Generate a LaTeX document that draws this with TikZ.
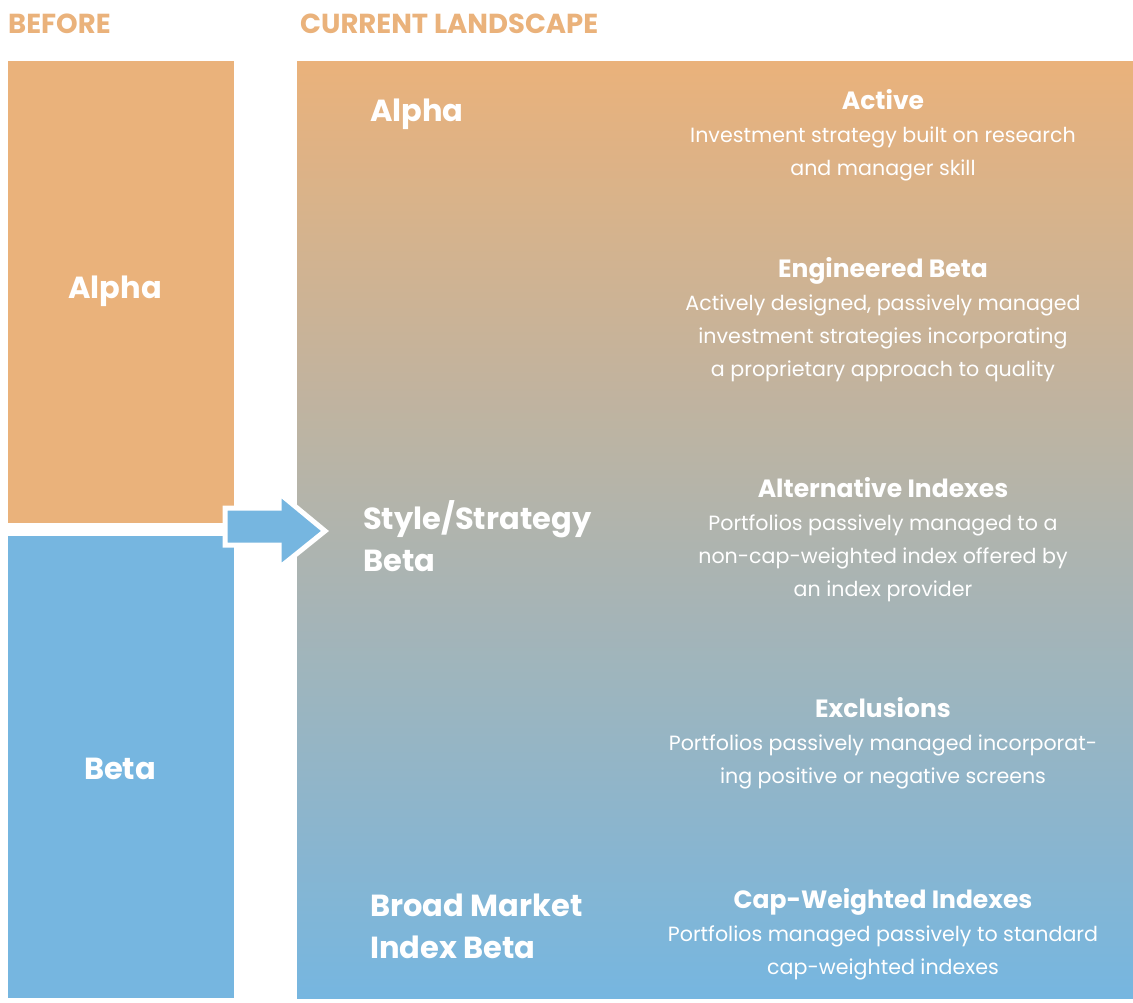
\documentclass[tikz,border=0pt]{standalone}
\usepackage{fontspec}
\setmainfont{Poppins}
\usetikzlibrary{shapes,calc}
\definecolor{orangeC}{RGB}{234,178,123}
\definecolor{blueC}{RGB}{118,182,224}
\tikzset{
  headtext/.style={text=orangeC,anchor=base west,inner sep=0pt,font=\fontsize{27.5}{30}\selectfont\bfseries},
  bigtext/.style={text=white,inner sep=0pt,font=\fontsize{30.5}{42}\selectfont\bfseries,align=left},
  desctext/.style={text=white,inner sep=0pt,font=\fontsize{20.6}{33}\selectfont,align=center},
}
\begin{document}
\begin{tikzpicture}[x=1pt,y=1pt]
  \useasboundingbox (0,0) rectangle (1133,-1002);
  \node[headtext] (before) at (8,-33) {BEFORE};
  \node[headtext] (current) at (300,-33) {CURRENT LANDSCAPE};
  \node[fill=orangeC,inner sep=0pt,minimum width=226pt,minimum height=462pt,anchor=north west] (alphabox) at (8,-61) {};
  \node[fill=blueC,inner sep=0pt,minimum width=226pt,minimum height=462pt,anchor=north west] (betabox) at (8,-536) {};
  \node[top color=orangeC,bottom color=blueC,draw=none,inner sep=0pt,minimum width=836pt,minimum height=937pt,anchor=north west] (landbox) at (297,-61) {};
  \draw[white,line width=5pt,fill=blueC,line join=miter]
    (225,-508) -- (279,-508) -- (279,-493) -- (325,-531) -- (279,-568) -- (279,-545) -- (225,-545) -- cycle;
  \node[bigtext] (alphaL) at (115,-291) {Alpha};
  \node[bigtext] (betaL) at (120,-769) {Beta};
  \node[bigtext,anchor=west] (alphaR) at (370,-114) {Alpha};
  \node[bigtext,anchor=west] (styleR) at (363,-536) {Style/Strategy\\Beta};
  \node[bigtext,anchor=west] (broadR) at (370,-926) {Broad Market\\Index Beta};
  \foreach \name/\y/\txt in {
    active/-135/{{\bfseries\fontsize{25}{33}\selectfont Active}\\Investment strategy built on research\\and manager skill},
    engineered/-320/{{\bfseries\fontsize{25}{33}\selectfont Engineered Beta}\\Actively designed, passively managed\\investment strategies incorporating\\a proprietary approach to quality},
    alternative/-540/{{\bfseries\fontsize{25}{33}\selectfont Alternative Indexes}\\Portfolios passively managed to a\\non-cap-weighted index offered by\\an index provider},
    exclusions/-743/{{\bfseries\fontsize{25}{33}\selectfont Exclusions}\\Portfolios passively managed incorporat-\\ing positive or negative screens},
    capweighted/-934/{{\bfseries\fontsize{25}{33}\selectfont Cap-Weighted Indexes}\\Portfolios managed passively to standard\\cap-weighted indexes}}{
    \node[desctext] (desc\name) at (883,\y) {\txt};
  }
\end{tikzpicture}
\end{document}
